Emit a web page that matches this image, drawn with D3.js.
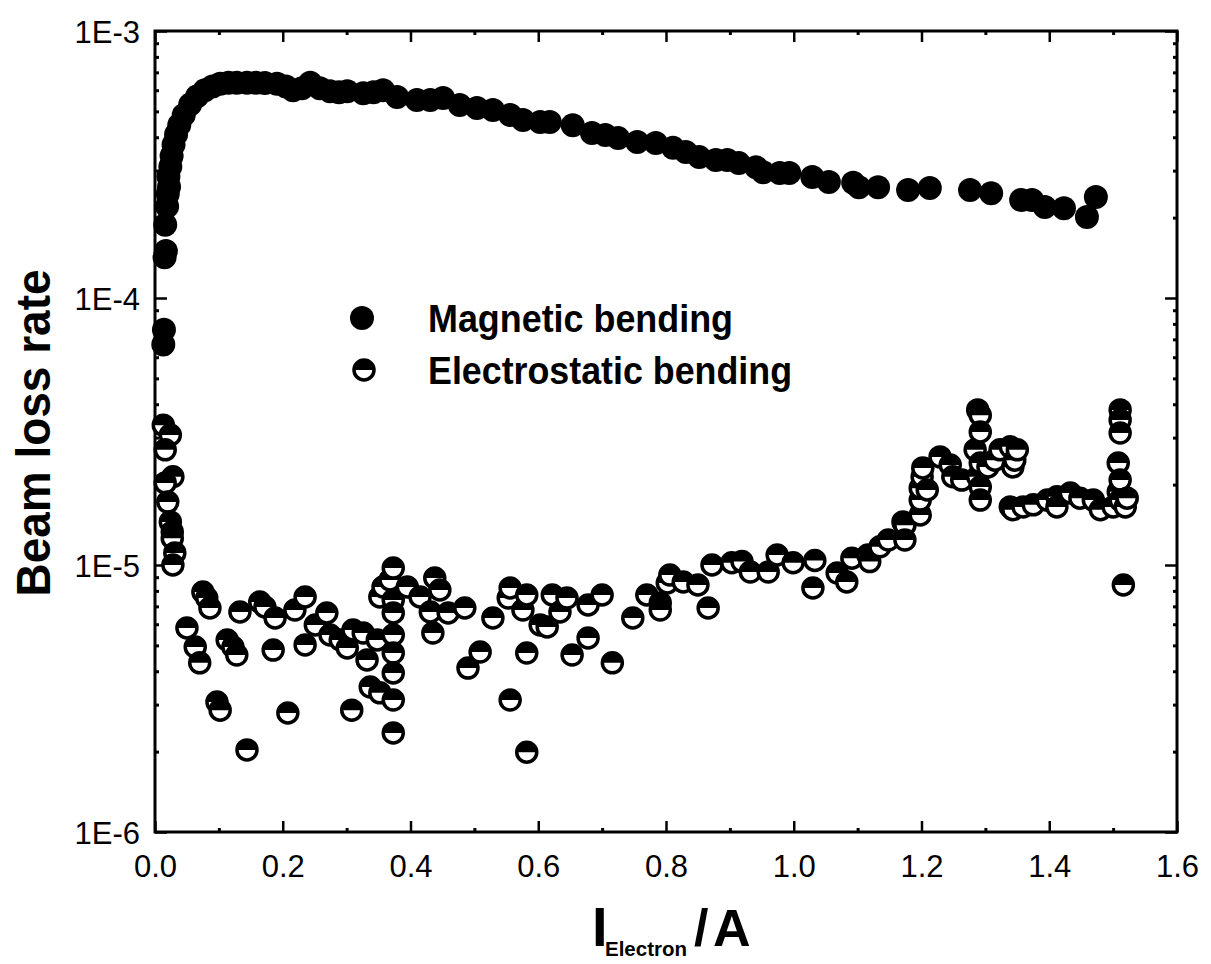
<!DOCTYPE html>
<html>
<head>
<meta charset="utf-8">
<script src="https://cdn.jsdelivr.net/npm/d3@7"></script>
<style>
    body { margin: 0; background: #fff; }
    svg { display: block; font-family: "Liberation Sans", Arial, sans-serif; }
</style>
</head>
<body>
<div id="chart"></div>
<script>
// magnetic bending (filled circles)
var magX = [0.013, 0.014, 0.015, 0.017, 0.016, 0.019, 0.020, 0.022, 0.021, 0.024, 0.026, 0.029, 0.033, 0.038, 0.045,
    0.055, 0.066, 0.078, 0.09, 0.102, 0.115, 0.128, 0.144, 0.158, 0.172, 0.191, 0.205, 0.216, 0.230, 0.243,
    0.258, 0.274, 0.288, 0.301, 0.326, 0.342, 0.357, 0.379, 0.41, 0.431, 0.451, 0.477, 0.504, 0.529, 0.556,
    0.576, 0.603, 0.618, 0.654, 0.684, 0.705, 0.725, 0.755, 0.784, 0.811, 0.831, 0.852, 0.878, 0.896, 0.914,
    0.941, 0.952, 0.978, 0.993, 1.029, 1.055, 1.093, 1.102, 1.132, 1.179, 1.213, 1.276, 1.309, 1.356, 1.373,
    1.393, 1.423, 1.459, 1.473];
var magY = [6.7e-5, 7.6e-5, 1.42e-4, 1.5e-4, 1.88e-4, 2.2e-4, 2.45e-4, 2.61e-4, 2.85e-4, 3.1e-4, 3.4e-4, 3.75e-4, 4.1e-4, 4.45e-4, 4.85e-4,
    5.3e-4, 5.7e-4, 6.0e-4, 6.2e-4, 6.35e-4, 6.4e-4, 6.4e-4, 6.4e-4, 6.4e-4, 6.38e-4, 6.35e-4, 6.2e-4, 6.0e-4, 6.1e-4, 6.4e-4,
    6.1e-4, 5.95e-4, 5.9e-4, 5.95e-4, 5.85e-4, 5.9e-4, 6.0e-4, 5.66e-4, 5.51e-4, 5.51e-4, 5.61e-4, 5.28e-4, 5.15e-4, 5.06e-4, 4.85e-4,
    4.64e-4, 4.56e-4, 4.56e-4, 4.44e-4, 4.15e-4, 4.08e-4, 3.97e-4, 3.84e-4, 3.81e-4, 3.65e-4, 3.52e-4, 3.37e-4, 3.29e-4, 3.29e-4, 3.2e-4,
    3.09e-4, 2.96e-4, 2.94e-4, 2.94e-4, 2.84e-4, 2.72e-4, 2.7e-4, 2.6e-4, 2.6e-4, 2.54e-4, 2.58e-4, 2.54e-4, 2.47e-4, 2.33e-4, 2.33e-4,
    2.19e-4, 2.17e-4, 2.01e-4, 2.39e-4];

// electrostatic bending (half filled circles)
var esX = [0.013, 0.024, 0.016, 0.028, 0.016, 0.020, 0.024, 0.027, 0.027, 0.031, 0.028, 0.050, 0.063, 0.070, 0.075,
    0.081, 0.086, 0.097, 0.102, 0.113, 0.122, 0.128, 0.133, 0.144, 0.164, 0.172, 0.185, 0.188, 0.208, 0.219,
    0.235, 0.235, 0.251, 0.269, 0.274, 0.290, 0.301, 0.308, 0.310, 0.326, 0.332, 0.337, 0.348, 0.352, 0.352,
    0.357, 0.368, 0.373, 0.373, 0.373, 0.373, 0.373, 0.373, 0.373, 0.373, 0.395, 0.415, 0.431, 0.435, 0.438,
    0.446, 0.459, 0.485, 0.490, 0.509, 0.529, 0.553, 0.556, 0.556, 0.576, 0.582, 0.582, 0.582, 0.603, 0.614,
    0.622, 0.634, 0.645, 0.653, 0.678, 0.678, 0.700, 0.716, 0.748, 0.770, 0.791, 0.791, 0.802, 0.806, 0.827,
    0.850, 0.866, 0.872, 0.903, 0.919, 0.932, 0.960, 0.974, 0.999, 1.030, 1.033, 1.068, 1.083, 1.091, 1.116,
    1.119, 1.135, 1.148, 1.171, 1.174, 1.174, 1.198, 1.198, 1.198, 1.201, 1.202, 1.209, 1.229, 1.245, 1.249,
    1.263, 1.284, 1.288, 1.288, 1.292, 1.292, 1.292, 1.292, 1.292, 1.304, 1.315, 1.323, 1.339, 1.339, 1.343,
    1.343, 1.346, 1.350, 1.359, 1.375, 1.397, 1.412, 1.412, 1.433, 1.448, 1.469, 1.480, 1.500, 1.508, 1.508,
    1.511, 1.511, 1.511, 1.511, 1.511, 1.516, 1.519, 1.522];
var esY = [3.34e-5, 3.07e-5, 2.70e-5, 2.14e-5, 2.03e-5, 1.72e-5, 1.45e-5, 1.33e-5, 1.26e-5, 1.11e-5, 1.0e-5, 5.81e-6, 4.93e-6, 4.30e-6, 7.92e-6,
    7.52e-6, 6.90e-6, 3.07e-6, 2.86e-6, 5.24e-6, 4.93e-6, 4.60e-6, 6.67e-6, 2.03e-6, 7.27e-6, 6.96e-6, 4.80e-6, 6.33e-6, 2.79e-6, 6.78e-6,
    7.59e-6, 5.02e-6, 5.96e-6, 6.61e-6, 5.47e-6, 5.24e-6, 4.89e-6, 2.86e-6, 5.71e-6, 5.56e-6, 4.41e-6, 3.49e-6, 5.24e-6, 3.32e-6, 7.59e-6,
    8.27e-6, 8.79e-6, 9.74e-6, 7.39e-6, 6.61e-6, 5.47e-6, 4.68e-6, 3.94e-6, 3.12e-6, 2.35e-6, 8.27e-6, 7.59e-6, 6.67e-6, 5.56e-6, 8.94e-6,
    8.06e-6, 6.61e-6, 6.90e-6, 4.11e-6, 4.72e-6, 6.33e-6, 7.52e-6, 8.20e-6, 3.12e-6, 6.78e-6, 7.72e-6, 4.68e-6, 1.99e-6, 5.96e-6, 5.86e-6,
    7.72e-6, 6.67e-6, 7.52e-6, 4.60e-6, 7.08e-6, 5.33e-6, 7.72e-6, 4.30e-6, 6.33e-6, 7.72e-6, 7.21e-6, 6.78e-6, 8.56e-6, 9.17e-6, 8.64e-6,
    8.42e-6, 6.90e-6, 1.0e-5, 1.02e-5, 1.03e-5, 9.41e-6, 9.41e-6, 1.09e-5, 1.02e-5, 8.20e-6, 1.04e-5, 9.33e-6, 8.64e-6, 1.06e-5, 1.09e-5,
    1.03e-5, 1.17e-5, 1.24e-5, 1.45e-5, 1.41e-5, 1.24e-5, 1.54e-5, 1.75e-5, 1.94e-5, 2.14e-5, 2.31e-5, 1.91e-5, 2.54e-5, 2.37e-5, 2.14e-5,
    2.08e-5, 2.70e-5, 3.81e-5, 2.14e-5, 3.64e-5, 3.15e-5, 2.41e-5, 1.96e-5, 1.75e-5, 2.33e-5, 2.47e-5, 2.70e-5, 2.77e-5, 1.65e-5, 2.33e-5,
    1.61e-5, 2.47e-5, 2.70e-5, 1.65e-5, 1.68e-5, 1.75e-5, 1.80e-5, 1.65e-5, 1.86e-5, 1.78e-5, 1.75e-5, 1.61e-5, 1.65e-5, 2.41e-5, 1.88e-5,
    3.81e-5, 3.49e-5, 3.12e-5, 2.08e-5, 1.75e-5, 8.42e-6, 1.65e-5, 1.78e-5];

var xMajor = [0, 0.2, 0.4, 0.6, 0.8, 1.0, 1.2, 1.4, 1.6];
var xMinor = [0.1, 0.3, 0.5, 0.7, 0.9, 1.1, 1.3, 1.5];
var yMajor = [1e-6, 1e-5, 1e-4, 1e-3];
var legendLabels = ["Magnetic bending", "Electrostatic bending"];

var W = 1211, H = 964,
    margin = {top: 31, left: 155},
    width = 1022,
    height = 801,
    magR = 12,
    esR = 10;

var yMinor = [];
yMajor.slice(0, -1).forEach(function (d) {
    for (var k = 2; k <= 9; k++) yMinor.push(d * k);
});

var svg = d3.select("#chart").append("svg")
    .attr("width", W)
    .attr("height", H);

var g = svg.append("g").attr("transform", "translate(" + margin.left + "," + margin.top + ")");

var x = d3.scaleLinear().domain([0, 1.6]).range([0, width]);
var y = d3.scaleLog().domain([1e-6, 1e-3]).range([height, 0]);

function styleAxis(sel, sw) {
    sel.select(".domain").remove();
    sel.selectAll(".tick line").attr("stroke", "#000").attr("stroke-width", sw);
    sel.selectAll(".tick text").attr("fill", "#000").style("font-size", "31px");
}

// major / minor ticks, all pointing inward
g.append("g").attr("class", "xaxis").attr("transform", "translate(0," + height + ")")
    .call(d3.axisBottom(x).tickValues(xMajor).tickSize(-11).tickPadding(23).tickFormat(d3.format(".1f")))
    .call(styleAxis, 2.5);
g.append("g").attr("transform", "translate(0," + height + ")")
    .call(d3.axisBottom(x).tickValues(xMinor).tickSize(-4).tickFormat(""))
    .call(styleAxis, 3);
g.append("g")
    .call(d3.axisTop(x).tickValues(xMajor).tickSize(-11).tickFormat(""))
    .call(styleAxis, 2.5);
g.append("g")
    .call(d3.axisTop(x).tickValues(xMinor).tickSize(-4).tickFormat(""))
    .call(styleAxis, 3);

g.append("g").attr("class", "yaxis")
    .call(d3.axisLeft(y).tickValues(yMajor).tickSize(-12).tickPadding(15)
        .tickFormat(function (d) { return "1E" + Math.round(Math.log10(d)); }))
    .call(styleAxis, 2.5);
g.append("g")
    .call(d3.axisLeft(y).tickValues(yMinor).tickSize(-4).tickFormat(""))
    .call(styleAxis, 3);
g.append("g").attr("transform", "translate(" + width + ",0)")
    .call(d3.axisRight(y).tickValues(yMajor).tickSize(-12).tickFormat(""))
    .call(styleAxis, 2.5);
g.append("g").attr("transform", "translate(" + width + ",0)")
    .call(d3.axisRight(y).tickValues(yMinor).tickSize(-4).tickFormat(""))
    .call(styleAxis, 3);

g.selectAll(".xaxis .tick text").attr("dy", "0.71em");
g.selectAll(".yaxis .tick text").attr("dy", "0.36em");

// frame
g.append("rect")
    .attr("width", width)
    .attr("height", height)
    .attr("fill", "none")
    .attr("stroke", "#000")
    .attr("stroke-width", 3);

function halfMarker(sel, r) {
    sel.append("circle").attr("r", r).attr("fill", "#fff").attr("stroke", "#000").attr("stroke-width", 3.5);
    sel.append("path")
        .attr("d", "M" + (-r) + ",0A" + r + "," + r + " 0 0 1 " + r + ",0Z")
        .attr("fill", "#000");
}

// electrostatic points
g.append("g").selectAll("g")
    .data(d3.range(esX.length))
    .enter()
    .append("g")
    .attr("transform", function (i) { return "translate(" + x(esX[i]) + "," + y(esY[i]) + ")"; })
    .each(function () { halfMarker(d3.select(this), esR); });

// magnetic points
g.append("g").selectAll("circle")
    .data(d3.range(magX.length))
    .enter()
    .append("circle")
    .attr("cx", function (i) { return x(magX[i]); })
    .attr("cy", function (i) { return y(magY[i]); })
    .attr("r", magR)
    .attr("fill", "#000");

// legend
svg.append("circle").attr("cx", 362).attr("cy", 318).attr("r", 12).attr("fill", "#000");
svg.append("g").attr("transform", "translate(364,370)").call(halfMarker, 10);

svg.selectAll(".legend")
    .data(legendLabels)
    .enter()
    .append("text")
    .attr("class", "legend")
    .attr("x", 428)
    .attr("y", function (d, i) { return 332 + i * 52; })
    .attr("textLength", function (d, i) { return i ? 364 : 305; })
    .attr("lengthAdjust", "spacingAndGlyphs")
    .style("font-size", "38px")
    .style("font-weight", "bold")
    .text(function (d) { return d; });

// axis titles
svg.append("text")
    .attr("transform", "translate(50,433) rotate(-90)")
    .attr("text-anchor", "middle")
    .attr("textLength", 327)
    .attr("lengthAdjust", "spacingAndGlyphs")
    .style("font-size", "48px")
    .style("font-weight", "bold")
    .text("Beam loss rate");

svg.append("text")
    .attr("x", 592).attr("y", 946)
    .style("font-size", "56px")
    .style("font-weight", "bold")
    .text("I");
svg.append("text")
    .attr("x", 605).attr("y", 956)
    .attr("textLength", 82)
    .attr("lengthAdjust", "spacingAndGlyphs")
    .style("font-size", "21px")
    .style("font-weight", "bold")
    .text("Electron");
svg.append("text")
    .attr("x", 694).attr("y", 946)
    .style("font-size", "52px")
    .style("font-weight", "bold")
    .text("/");
svg.append("text")
    .attr("x", 713).attr("y", 946)
    .style("font-size", "52px")
    .style("font-weight", "bold")
    .text("A");
</script>
</body>
</html>
